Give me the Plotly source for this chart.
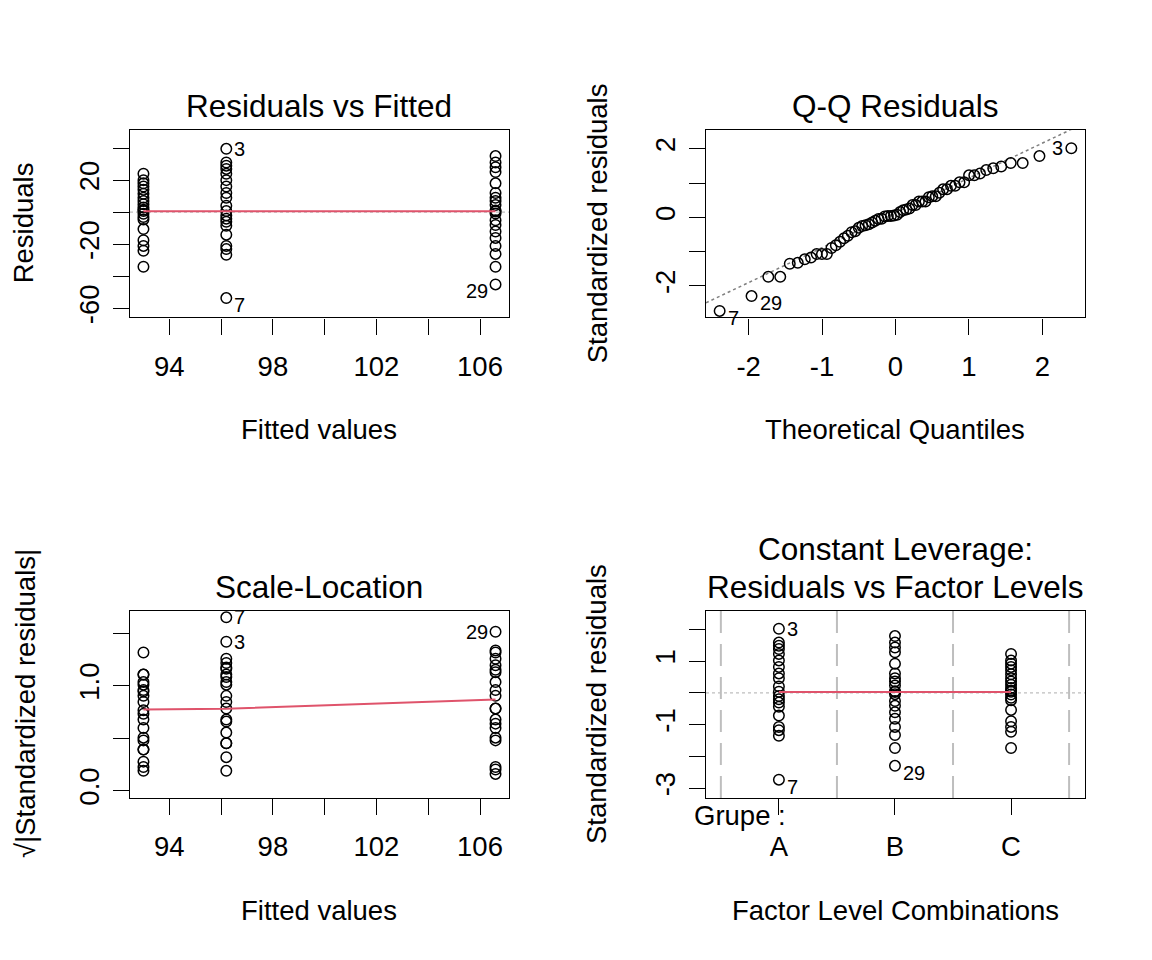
import numpy as np
import plotly.graph_objects as go
from statistics import NormalDist

# the page body has an 8px margin; keep the figure inside the window
W, H = 1136, 944
OFF = 8
KY = 0.9913   # vertical correction measured from earlier renders

# --- data ---
groups = ["A", "B", "C"]
fitted = [96.2, 106.6, 93.0]          # fitted value for each group
resid_a = [39.5, 31, 29, 27, 24, 20, 16, 12, 9, 4, 0.7, -2, -4, -6, -8.5, -14, -21, -23, -26.5, -53.5]
resid_b = [35, 31, 28, 25, 18, 12, 9, 7, 4.5, 1, 0.5, -0.8, -5, -8, -12, -16, -21, -26, -34, -45]
resid_c = [24, 20, 18, 16, 14, 11.5, 9, 7, 5, 3, 1.5, 0.7, -1, -3, -4.5, -10.5, -17.5, -21, -24, -34]
resid_sd = 19.6                        # s * sqrt(1 - h), constant leverage

# labelled observations: (id, group index, position in that group's list)
label_ids = ["3", "7", "29"]
label_group = [0, 0, 1]
label_pos = [0, 19, 19]

# red smoother lines
smooth_x = [93.0, 96.2, 106.6]
smooth_resid = [0.6, 0.6, 0.6]
smooth_scale = [0.774, 0.78, 0.87]
smooth_factor = [0.03, 0.03, 0.03]

resids = [resid_a, resid_b, resid_c]
std = [[r / resid_sd for r in g] for g in resids]

FONT = "Arial, Liberation Sans, sans-serif"
RED = "#DF536B"
GRAY = "#BEBEBE"
TICK = 27.5
LABEL = 27.5
TITLE = 31.5


def px(x):
    return (x - OFF) / W


def py(y):
    return 1 - (y / KY - OFF) / H


def axis(dom, rng, vals, text, angle=0, standoff=8):
    return dict(domain=dom, range=rng, tickvals=vals, ticktext=text,
                ticks="outside", ticklen=16, tickwidth=1.3, tickcolor="black",
                showline=True, linecolor="black", linewidth=1.3, mirror=True,
                showgrid=False, zeroline=False, tickangle=angle,
                ticklabelstandoff=standoff,
                tickfont=dict(family=FONT, size=TICK, color="black"))


marker = dict(symbol="circle-open", size=10.5, color="black", line=dict(width=1.5))

fig = go.Figure()

# panel 1: residuals vs fitted
for g in range(3):
    fig.add_trace(go.Scatter(x=[fitted[g]] * len(resids[g]), y=resids[g], mode="markers",
                             marker=marker, xaxis="x", yaxis="y"))
fig.add_trace(go.Scatter(x=smooth_x, y=smooth_resid, mode="lines",
                         line=dict(color=RED, width=2), xaxis="x", yaxis="y"))

# panel 2: Q-Q
pts = []
for g in range(3):
    for i, v in enumerate(std[g]):
        pts.append((v, g, i))
pts.sort()
n = len(pts)
theo = [NormalDist().inv_cdf((k + 0.5) / n) for k in range(n)]
sy = [p[0] for p in pts]
q25, q75 = np.quantile(sy, [0.25, 0.75])
x25, x75 = NormalDist().inv_cdf(0.25), NormalDist().inv_cdf(0.75)
slope = (q75 - q25) / (x75 - x25)
icpt = q25 - slope * x25
qq_rng = [-2.58, 2.58]
fig.add_trace(go.Scatter(x=qq_rng, y=[icpt + slope * v for v in qq_rng], mode="lines",
                         line=dict(color="#7F7F7F", width=1.5, dash="dot"), xaxis="x2", yaxis="y2"))
fig.add_trace(go.Scatter(x=theo, y=sy, mode="markers", marker=marker, xaxis="x2", yaxis="y2"))

# panel 3: scale-location
for g in range(3):
    fig.add_trace(go.Scatter(x=[fitted[g]] * len(std[g]), y=[abs(v) ** 0.5 for v in std[g]],
                             mode="markers", marker=marker, xaxis="x3", yaxis="y3"))
fig.add_trace(go.Scatter(x=smooth_x, y=smooth_scale, mode="lines",
                         line=dict(color=RED, width=2), xaxis="x3", yaxis="y3"))

# panel 4: residuals vs factor levels
for g in range(3):
    fig.add_trace(go.Scatter(x=[g + 1] * len(std[g]), y=std[g], mode="markers",
                             marker=marker, xaxis="x4", yaxis="y4"))
fig.add_trace(go.Scatter(x=[1, 2, 3], y=smooth_factor, mode="lines",
                         line=dict(color=RED, width=2), xaxis="x4", yaxis="y4"))

# point labels
ann = []


def lab(text, x, y, xr, yr, right=True):
    ann.append(dict(text=text, x=x, y=y, xref=xr, yref=yr, showarrow=False,
                    xanchor="left" if right else "right", xshift=6 if right else -6,
                    yshift=-7 if y < 0 else 0, font=dict(family=FONT, size=20, color="black")))


for t, g, i in zip(label_ids, label_group, label_pos):
    r = resids[g][i]
    s = std[g][i]
    right = fitted[g] < 99.8
    lab(t, fitted[g], r, "x", "y", right)
    lab(t, fitted[g], abs(s) ** 0.5, "x3", "y3", right)
    lab(t, g + 1, s, "x4", "y4", True)
    k = pts.index((s, g, i))
    lab(t, theo[k], s, "x2", "y2", theo[k] < 0)


def txt(text, x, y, size=LABEL, angle=0, anchor="center"):
    ann.append(dict(text=text, x=px(x), y=py(y), xref="paper", yref="paper", showarrow=False,
                    xanchor=anchor, yanchor="middle", textangle=angle,
                    font=dict(family=FONT, size=size, color="black")))


txt("Residuals vs Fitted", 319, 106, TITLE)
txt("Q-Q Residuals", 895, 106, TITLE)
txt("Scale-Location", 319, 586, TITLE)
txt("Constant Leverage:", 895, 548, TITLE)
txt("Residuals vs Factor Levels", 895, 586, TITLE)
txt("Fitted values", 319, 429)
txt("Theoretical Quantiles", 895, 429)
txt("Fitted values", 319, 909)
txt("Factor Level Combinations", 895, 909)
txt("Residuals", 23, 223, angle=-90)
txt("Standardized residuals", 597, 223, angle=-90)
txt("√|Standardized residuals|", 26, 703, angle=-90)
txt("Standardized residuals", 597, 703, angle=-90)
txt("Grupe :", 692, 814, anchor="left")

shapes = [
    dict(type="line", xref="x domain", yref="y", x0=0, x1=1, y0=0, y1=0, layer="below",
         line=dict(color=GRAY, width=1.3, dash="dot")),
    dict(type="line", xref="x4 domain", yref="y4", x0=0, x1=1, y0=0, y1=0, layer="below",
         line=dict(color=GRAY, width=1.3, dash="dot")),
]
for v in [0.5, 1.5, 2.5, 3.5]:
    shapes.append(dict(type="line", xref="x4", yref="y4 domain", x0=v, x1=v, y0=0, y1=1,
                       layer="below", line=dict(color=GRAY, width=2, dash="22px,11px")))

xl = [px(130), px(509)]
xr = [px(706), px(1085)]
yt = [py(317), py(130)]
yb = [py(797), py(610)]
fit_ticks = [94, 96, 98, 100, 102, 104, 106]
fit_text = ["94", "", "98", "", "102", "", "106"]

fig.update_layout(
    width=W, height=H, margin=dict(l=0, r=0, t=0, b=0),
    paper_bgcolor="white", plot_bgcolor="white", showlegend=False,
    font=dict(family=FONT, color="black"),
    xaxis=axis(xl, [92.48, 107.12], fit_ticks, fit_text),
    yaxis=axis(yt, [-65.6, 51.1], [-60, -40, -20, 0, 20, 40], ["-60", "", "-20", "", "20", ""], -90, 3),
    xaxis2=axis(xr, qq_rng, [-2, -1, 0, 1, 2], ["-2", "-1", "0", "1", "2"]),
    yaxis2=axis(yt, [-2.92, 2.54], [-2, -1, 0, 1, 2], ["-2", "", "0", "", "2"], -90, 3),
    xaxis3=axis(xl, [92.48, 107.12], fit_ticks, fit_text),
    yaxis3=axis(yb, [-0.071, 1.714], [0, 0.5, 1, 1.5], ["0.0", "", "1.0", ""], -90, 3),
    xaxis4=axis(xr, [0.372, 3.637], [1, 2, 3], groups),
    yaxis4=axis(yb, [-3.31, 2.58], [-3, -2, -1, 0, 1, 2], ["-3", "", "-1", "", "1", ""], -90, 3),
    annotations=ann, shapes=shapes,
)
for i, a in enumerate(["x", "x2", "x3", "x4"]):
    fig.layout["xaxis" + ("" if i == 0 else str(i + 1))].anchor = "y" + ("" if i == 0 else str(i + 1))
    fig.layout["yaxis" + ("" if i == 0 else str(i + 1))].anchor = a

fig.write_html("out.html")
